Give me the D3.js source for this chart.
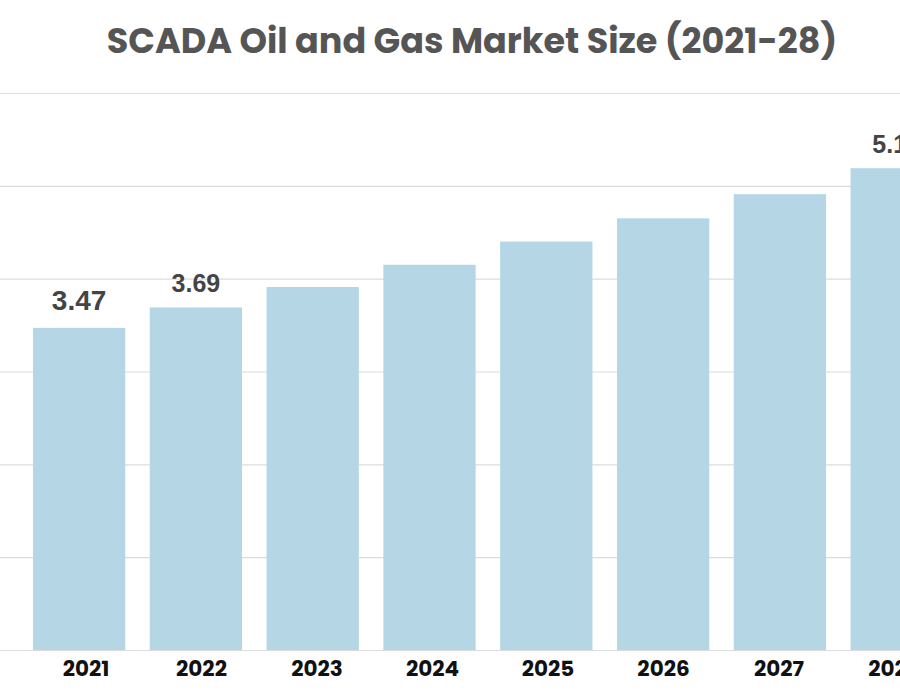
<!DOCTYPE html>
<html>
<head>
<meta charset="utf-8">
<script src="https://cdn.jsdelivr.net/npm/d3@7"></script>
<style>
  html, body { margin: 0; padding: 0; background: #fff; overflow: hidden; }
</style>
</head>
<body>
<svg id="chart"></svg>
<script>
const years = ['2021', '2022', '2023', '2024', '2025', '2026', '2027', '2028'];
const marketSize = [3.47, 3.69, 3.91, 4.15, 4.40, 4.65, 4.91, 5.19];
// only some bars carry a value label in the original
const valueLabels = ['3.47', '3.69', null, null, null, null, null, '5.19'];
const gridTicks = [0, 1, 2, 3, 4, 5, 6];
const title = 'SCADA Oil and Gas Market Size (2021-28)';

const width = 900;
const height = 700;

const svg = d3.select('#chart')
    .attr('width', width)
    .attr('height', height);

const x = d3.scaleBand()
    .domain(years)
    .range([20.7, 955.1])
    .paddingInner(0.21)
    .paddingOuter(0.105);

// year labels sit on a slightly tighter spacing than the bars
const xLabel = d3.scalePoint()
    .domain(years)
    .range([86, 894.5]);

const y = d3.scaleLinear()
    .domain([0, 6])
    .range([650, 93]);

svg.append('text')
    .attr('x', 472)
    .attr('y', 53)
    .attr('text-anchor', 'middle')
    .attr('font-family', 'Poppins, Inter, sans-serif')
    .attr('font-weight', 700)
    .attr('font-size', 35)
    .attr('fill', '#555')
    .text(title);

svg.append('g')
  .selectAll('line')
  .data(gridTicks)
  .join('line')
    .attr('x1', 0)
    .attr('x2', width)
    .attr('y1', d => y(d) + 0.5)
    .attr('y2', d => y(d) + 0.5)
    .attr('stroke', '#dcdcdc')
    .attr('stroke-width', 1.2);

svg.append('g')
  .selectAll('rect')
  .data(marketSize)
  .join('rect')
    .attr('x', (d, i) => x(years[i]))
    .attr('y', d => y(d))
    .attr('width', x.bandwidth())
    .attr('height', d => y(0) - y(d))
    .attr('fill', '#b5d6e5');

svg.append('g')
  .selectAll('text')
  .data(marketSize)
  .join('text')
    .attr('x', (d, i) => x(years[i]) + x.bandwidth() / 2)
    .attr('y', (d, i) => y(d) - (i === 0 ? 18 : 15.5))
    .attr('text-anchor', 'middle')
    .attr('font-family', 'Liberation Sans, Arial, sans-serif')
    .attr('font-weight', 700)
    .attr('font-size', (d, i) => i === 0 ? 28 : 25)
    .attr('fill', '#444')
    .text((d, i) => valueLabels[i]);

svg.append('g')
  .selectAll('text')
  .data(years)
  .join('text')
    .attr('x', d => xLabel(d))
    .attr('y', 676)
    .attr('text-anchor', 'middle')
    .attr('font-family', 'Poppins, Inter, sans-serif')
    .attr('font-weight', 700)
    .attr('font-size', 21.5)
    .attr('fill', '#111')
    .text(d => d);
</script>
</body>
</html>
